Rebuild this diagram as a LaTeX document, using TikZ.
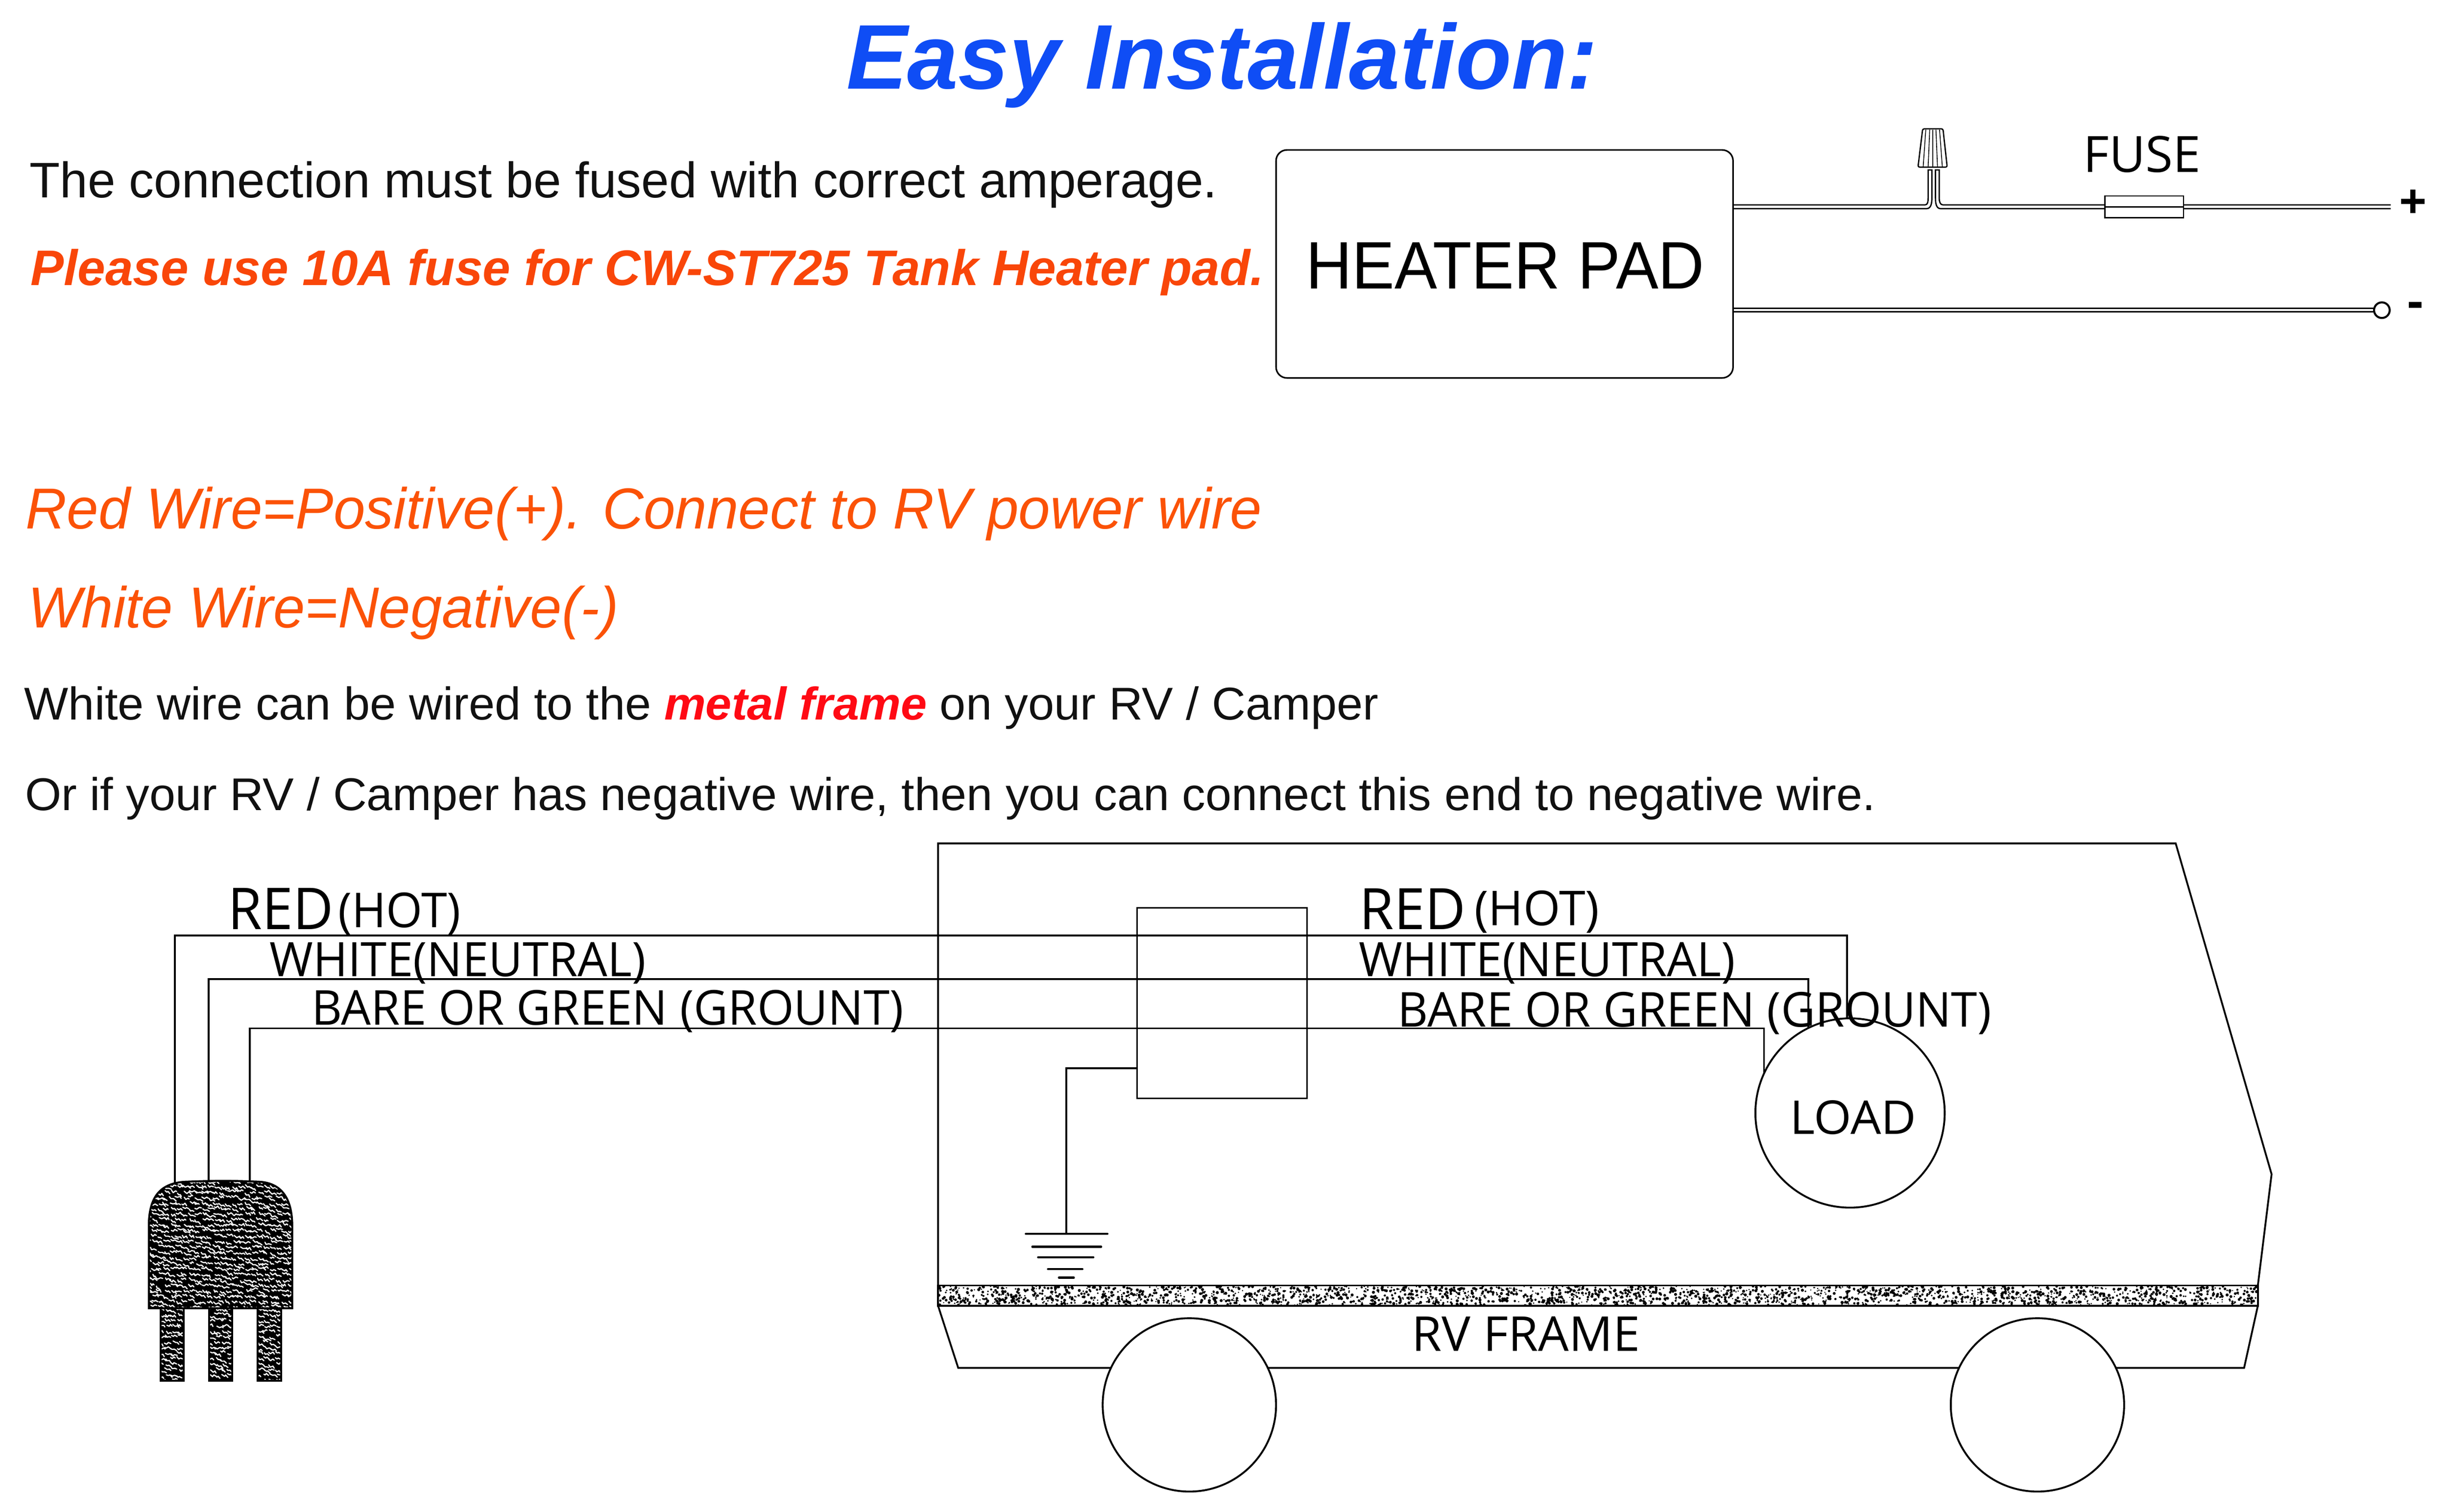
\documentclass[tikz,border=0pt]{standalone}
\usepackage{graphicx}
\usepackage{fontspec}
\setmainfont{Liberation Sans}
\newfontfamily\osans{Open Sans}
\definecolor{titleblue}{HTML}{0F4DF5}
\definecolor{boldorange}{HTML}{F94609}
\definecolor{itorange}{HTML}{FB5207}
\definecolor{framered}{HTML}{FF0A14}
\definecolor{inkblack}{HTML}{111111}
\newdimen\unitd \unitd=0.5pt
\newsavebox\fitbox
\newcommand{\fitw}[2]{\sbox\fitbox{#2}\resizebox{#1\unitd}{\ht\fitbox}{\usebox\fitbox}}
\tikzset{
  txt/.style={anchor=base west,inner sep=0pt,outer sep=0pt,text=inkblack,font=\fontsize{#1}{#1}\selectfont},
  lbl/.style={anchor=base west,inner sep=0pt,outer sep=0pt,text=black,font=\osans\fontsize{#1}{#1}\selectfont},
  ln/.style={draw=black,line width=.58pt,line join=miter},
  thin wire/.style={draw=black,line width=.42pt},
  box/.style={draw=black,line width=.5pt,inner sep=0pt,outer sep=0pt},
  round node/.style={circle,draw=black,fill=white,line width=.6pt,inner sep=0pt,outer sep=0pt,minimum size=#1},
  squig/.style={white,line width=.38pt,line join=round,line cap=round},
}
\begin{document}
\begin{tikzpicture}[x=0.5pt,y=-0.5pt]
\useasboundingbox (0,0) rectangle (1568,968);
% ---- coordinates for wire ends
\coordinate (hU) at (1109.6,131.2);
\coordinate (hL) at (1109.6,133.6);
\coordinate (eU) at (1530.6,131.2);
\coordinate (eL) at (1530.6,133.6);
\coordinate (nU) at (1109.6,197.4);
\coordinate (nL) at (1109.6,199.6);
\coordinate (tU) at (1521,197.4);
\coordinate (tL) at (1521,199.6);
\coordinate (plugR) at (112,757);
\coordinate (plugW) at (133.5,757);
\coordinate (plugG) at (160,757);
\coordinate (loadR) at (1182.6,655);
\coordinate (loadW) at (1157.7,660);
\coordinate (loadG) at (1129.4,690);
\coordinate (gndTop) at (682.7,790);
% ---- heater pad
\node[box,rectangle,rounded corners=3.5pt,minimum width=146.3pt,minimum height=73pt] (heater) at (963.3,169) {};
\draw[thin wire] (hU) -- (1232.5,131.2) to[out=0,in=-90] (1234.5,127) -- (1234.5,108.8) -- (1236.9,108.8)
   -- (1236.9,127) to[out=-90,in=0] (1233.5,133.6) -- (hL);
\draw[thin wire] (eU) -- (1244,131.2) to[out=180,in=-90] (1241.6,127) -- (1241.6,108.8) -- (1239.2,108.8)
   -- (1239.2,127) to[out=-90,in=180] (1242.5,133.6) -- (eL);
\draw[thin wire] (nU) -- (tU);
\draw[thin wire] (nL) -- (tL);
\node[round node=5pt,line width=.65pt] (term) at (1525,198.6) {};
\node[box,rectangle,fill=white,line width=.42pt,minimum width=25.2pt,minimum height=7pt] (fuse) at (1372.8,132.4) {};
\draw[thin wire] (fuse.west) -- (fuse.east);
% wire nut
\draw[draw=black,line width=.42pt,line join=round,rounded corners=.5pt] (1228,107) -- (1231,82.5) -- (1244,82.5) -- (1246.7,107) -- cycle;
\foreach \a/\b in {1233/1231.3,1235.5/1234.5,1237.5/1237.5,1239.5/1240.5,1241.8/1243.6}
  \draw[draw=black,line width=.25pt] (\a,83) -- (\b,107);
% ---- RV
\draw[ln] (600.6,836) -- (600.6,540) -- (1393,540) -- (1454.4,751.8) -- (1445.6,823);
\draw[ln] (600.6,836) -- (613.5,875.8) -- (1436.8,875.8) -- (1445.6,836);
\begin{scope}
  \clip (600.6,823) rectangle (1445.6,836);
  \pgfmathsetseed{11}
  \fill[black] foreach \i in {1,...,2500} { ({600.6+845*rnd},{823.5+12*rnd}) circle[radius={0.4+0.6*rnd}] };
\end{scope}
\draw[ln] (600.6,823) rectangle (1445.6,836);
\node[round node=55.5pt] (wheelL) at (761.5,899.5) {};
\node[round node=55.5pt] (wheelR) at (1304.5,899.5) {};
% ---- plug
\begin{scope}
  \clip (95.3,837.6) -- (95.3,785) .. controls (95.3,767) and (102,757) .. (120,756.6)
     .. controls (140,755.8) and (150,756) .. (165,756.6) .. controls (180,757) and (187.1,767) .. (187.1,785)
     -- (187.1,837.6) -- cycle
     (102.8,837) rectangle (117.6,884) (134,837) rectangle (148.7,884) (165,837) rectangle (180,884);
  \fill[black] (90,750) rectangle (192,890);
  \pgfmathsetseed{5}
  \foreach \px in {93,97,...,187}
    \foreach \py in {756,759.5,...,838}
      \draw[squig] ({\px-1+2*rnd},{\py-1+2*rnd}) -- ++({0.6+1.2*rnd},{0.4+1.2*rnd}) -- ++({0.6+1.2*rnd},{-1.2+1.2*rnd})
        -- ++({0.6+1.2*rnd},{0.4+1.2*rnd});
  \foreach \lx in {102,134,165}
    \foreach \px in {0,4,8,12}
      \foreach \py in {838,841.5,...,884}
        \draw[squig] ({\lx+\px-1+2*rnd},{\py-1+2*rnd}) -- ++({0.6+1.2*rnd},{0.4+1.2*rnd}) -- ++({0.6+1.2*rnd},{-1.2+1.2*rnd})
          -- ++({0.6+1.2*rnd},{0.4+1.2*rnd});
\end{scope}
\draw[ln,line width=.65pt] (95.3,837.6) -- (95.3,785) .. controls (95.3,767) and (102,757) .. (120,756.6)
     .. controls (140,755.8) and (150,756) .. (165,756.6) .. controls (180,757) and (187.1,767) .. (187.1,785)
     -- (187.1,837.6) -- cycle;
\draw[ln,line width=.65pt] (102.8,837.6) rectangle (117.6,884);
\draw[ln,line width=.65pt] (134,837.6) rectangle (148.7,884);
\draw[ln,line width=.65pt] (165,837.6) rectangle (180,884);
% ---- wiring
\draw[ln] (plugR) |- (1182.6,598.9) -- (loadR);
\draw[ln] (plugW) |- (1157.7,626.8) -- (loadW);
\draw[ln] (plugG) |- (1129.4,658.4) -- (loadG);
\node[box,rectangle,minimum width=54.5pt,minimum height=61pt] (jbox) at (782.4,642.3) {};
\node[round node=60.6pt] (load) at (1184.5,712.6) {};
% ground
\draw[ln] (jbox.west |- 0,684) -| (gndTop);
\draw[ln,line cap=round,line width=.7pt] (656.8,790) -- (709,790);
\draw[ln,line cap=round,line width=.7pt] (661,798.2) -- (705,798.2);
\draw[ln,line cap=round,line width=.7pt] (664.7,805) -- (700,805);
\draw[ln,line cap=round,line width=.7pt] (671,812.6) -- (693,812.6);
\draw[ln,line cap=round,line width=.7pt] (678,818) -- (687.5,818);
% ---- text
\node[txt=29.4,text=titleblue] (title) at (542,56.8) {\fitw{481}{\bfseries\itshape Easy Installation:}};
\node[txt=16] (l1) at (19,126.5) {\fitw{760.5}{The connection must be fused with correct amperage.}};
\node[txt=16,text=boldorange] (l2) at (19.5,182.6) {\fitw{790}{\bfseries\itshape Please use 10A fuse for CW-ST725 Tank Heater pad.}};
\node[txt=21.5,text=black] (heaterlbl) at (836.3,185) {\fitw{255}{HEATER PAD}};
\node[txt=18.5,text=itorange] (l3) at (16.6,338.4) {\fitw{791.5}{\itshape Red Wire=Positive(+). Connect to RV power wire}};
\node[txt=18.5,text=itorange] (l4) at (18,402) {\fitw{378}{\itshape White Wire=Negative(-)}};
\node[txt=14.7] (l5) at (15.6,460.8) {\fitw{867}{White wire can be wired to the \textcolor{framered}{\bfseries\itshape metal frame} on your RV / Camper}};
\node[txt=14.7] (l6) at (16,519) {\fitw{1185}{Or if your RV / Camper has negative wire, then you can connect this end to negative wire.}};
\node[lbl=16] (fuselbl) at (1334,110.3) {\fitw{75}{FUSE}};
\node[inner sep=0pt,font=\osans\bfseries\fontsize{15.5}{15.5}\selectfont] (plus) at (1545,130.7) {+};
\node[inner sep=0pt,font=\osans\bfseries\fontsize{15.5}{15.5}\selectfont] (minus) at (1546.5,198.6) {-};
\node[lbl=18.5] (redL) at (146,595) {\fitw{67.5}{RED}};
\node[lbl=15.4] (hotL) at (216.5,593.8) {\fitw{78.5}{(HOT)}};
\node[lbl=15.2] (whiteL) at (172.6,625) {\fitw{241}{WHITE(NEUTRAL)}};
\node[lbl=15.4] (bareL) at (199.6,656.2) {\fitw{379}{BARE OR GREEN (GROUNT)}};
\node[lbl=18.3] (redR) at (870.5,595) {\fitw{68}{RED}};
\node[lbl=15.4] (hotR) at (944,592.4) {\fitw{80}{(HOT)}};
\node[lbl=15.2] (whiteR) at (870,625) {\fitw{241}{WHITE(NEUTRAL)}};
\node[lbl=15.4] (bareR) at (895,657.5) {\fitw{380}{BARE OR GREEN (GROUNT)}};
\node[lbl=14.9] (loadlbl) at (1146,726) {\fitw{81}{LOAD}};
\node[lbl=15.4] (frame) at (904,865) {\fitw{146}{RV FRAME}};
\end{tikzpicture}
\end{document}
